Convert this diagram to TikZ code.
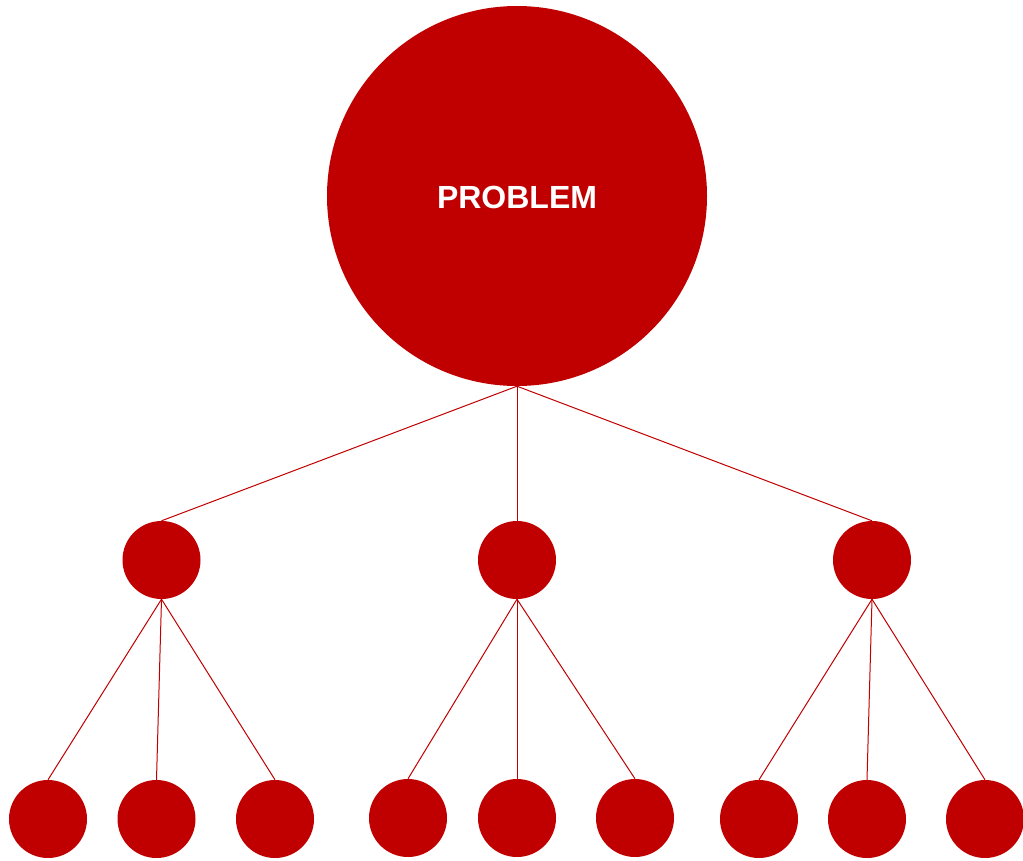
\documentclass[tikz,border=0pt]{standalone}
\usepackage{fontspec}
\setmainfont{Liberation Sans}
\definecolor{pred}{HTML}{C00000}
\begin{document}
\begin{tikzpicture}[x=1pt,y=-1pt,
  dot/.style={circle,fill=pred,draw=none,minimum size=78pt,inner sep=0pt},
  big/.style={circle,fill=pred,draw=none,minimum size=380pt,inner sep=0pt},
  lbl/.style={text=white,font=\bfseries\fontsize{32}{32}\selectfont,inner sep=0pt},
  link/.style={draw=pred,line width=1pt}]
\useasboundingbox (0,0) rectangle (1023,860);
\node[big] (top) at (517,196) {};
\node[lbl] (toplbl) at (517,197) {PROBLEM};
\node[dot] (m1) at (161.5,560) {};
\node[dot] (m2) at (517,560) {};
\node[dot] (m3) at (872,560) {};
\node[dot] (b1) at (48,819) {};
\node[dot] (b2) at (156.5,819) {};
\node[dot] (b3) at (275,819) {};
\node[dot] (b4) at (408,818) {};
\node[dot] (b5) at (517,818) {};
\node[dot] (b6) at (635,818) {};
\node[dot] (b7) at (759,819) {};
\node[dot] (b8) at (867,819) {};
\node[dot] (b9) at (985,819) {};
\foreach \m in {m1,m2,m3} \draw[link] (top.south) -- (\m.north);
\foreach \b in {b1,b2,b3} \draw[link] (m1.south) -- (\b.north);
\foreach \b in {b4,b5,b6} \draw[link] (m2.south) -- (\b.north);
\foreach \b in {b7,b8,b9} \draw[link] (m3.south) -- (\b.north);
\end{tikzpicture}
\end{document}
